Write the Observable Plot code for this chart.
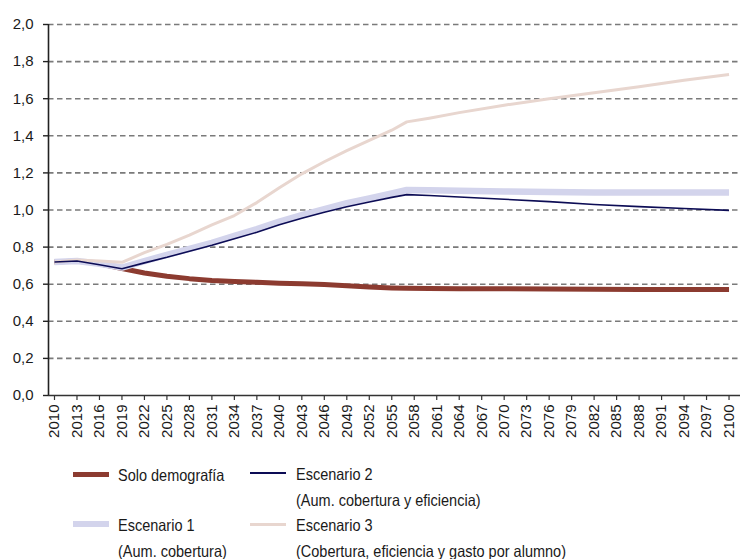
<!DOCTYPE html>
<html>
<head>
<meta charset="utf-8">
<script src="https://cdn.jsdelivr.net/npm/d3@7"></script>
<script src="https://cdn.jsdelivr.net/npm/@observablehq/plot@0.6"></script>
<style>
  html, body { margin: 0; padding: 0; background: #fff; overflow: hidden; }
  body { font-family: "Liberation Sans", Arial, sans-serif; }
  #legend { position: relative; width: 740px; height: 114px; font-family: "Liberation Sans", Arial, sans-serif; font-size: 14.5px; color: #1a1a1a; }
  #legend .sw { position: absolute; }
  #legend .tx { position: absolute; line-height: 21.7px; white-space: nowrap; transform: scale(1, 1.15); transform-origin: 0 0; }
</style>
</head>
<body>
<div id="chart"></div>
<div id="legend"></div>
<script>
// ---- data ----
const years = [2010, 2013, 2016, 2019, 2022, 2025, 2028, 2031, 2034, 2037, 2040, 2043, 2046, 2049, 2052, 2055, 2057, 2060, 2064, 2070, 2076, 2082, 2088, 2094, 2100];
const soloDemografia = [0.72, 0.725, 0.71, 0.685, 0.66, 0.643, 0.63, 0.62, 0.614, 0.61, 0.605, 0.602, 0.598, 0.592, 0.585, 0.58, 0.578, 0.577, 0.576, 0.575, 0.574, 0.573, 0.572, 0.572, 0.572];
const escenario1 = [0.72, 0.725, 0.71, 0.69, 0.725, 0.758, 0.79, 0.823, 0.86, 0.897, 0.937, 0.972, 1.005, 1.037, 1.063, 1.09, 1.108, 1.106, 1.104, 1.10, 1.097, 1.095, 1.094, 1.095, 1.095];
const escenario2 = [0.72, 0.725, 0.705, 0.683, 0.715, 0.745, 0.778, 0.81, 0.845, 0.88, 0.92, 0.955, 0.988, 1.018, 1.043, 1.068, 1.083, 1.078, 1.07, 1.058, 1.045, 1.03, 1.018, 1.008, 0.998];
const escenario3 = [0.72, 0.73, 0.725, 0.718, 0.77, 0.815, 0.865, 0.92, 0.97, 1.04, 1.12, 1.195, 1.26, 1.32, 1.375, 1.43, 1.475, 1.495, 1.525, 1.565, 1.60, 1.632, 1.665, 1.70, 1.73];

const seriesNames = ["Solo demografía", "Escenario 1", "Escenario 2", "Escenario 3"];
const legendLines = [["Solo demografía"], ["Escenario 1", "(Aum. cobertura)"], ["Escenario 2", "(Aum. cobertura y eficiencia)"], ["Escenario 3", "(Cobertura, eficiencia y gasto por alumno)"]];
const seriesColors = ["#8c3b30", "#d3d4ec", "#0c0c55", "#e8d6cf"];
const seriesWidths = [5, 6.5, 1.6, 3];

const xTicks = d3.range(2010, 2101, 3);
const yTicks = [0, 0.2, 0.4, 0.6, 0.8, 1.0, 1.2, 1.4, 1.6, 1.8, 2.0];

// ---- table ----
const allValues = [soloDemografia, escenario1, escenario2, escenario3];
const rows = [];
seriesNames.forEach((name, i) => {
  years.forEach((yr, j) => rows.push({series: name, year: yr, value: allValues[i][j]}));
});
const bySeries = name => rows.filter(r => r.series === name);

const fmt = d => d3.format(".1f")(d).replace(".", ",");
const xMin = 2009.2, xMax = 2101.53;

const drawOrder = [0, 1, 3, 2];

const chart = Plot.plot({
  width: 740,
  height: 445,
  marginTop: 24,
  marginBottom: 50,
  marginLeft: 48,
  marginRight: 0,
  style: {fontFamily: "Liberation Sans, Arial, sans-serif", fontSize: "15px", color: "#1a1a1a", background: "#fff"},
  x: {domain: [xMin, xMax], label: null},
  y: {domain: [0, 2], label: null},
  marks: [
    Plot.gridY(yTicks.filter(d => d > 0), {stroke: "#7a7a7a", strokeOpacity: 1, strokeWidth: 1.6, strokeDasharray: "5.5,3.5"}),
    Plot.axisY({ticks: yTicks, tickSize: 5, tickPadding: 10, tickFormat: fmt, stroke: "#222", strokeWidth: 1.4, label: null}),
    Plot.axisX({ticks: xTicks, tickRotate: -90, tickSize: 5, tickPadding: 4, tickFormat: d => String(d), stroke: "#333", strokeWidth: 1.2, label: null, fontSize: 15}),
    ...drawOrder.map(i => Plot.line(bySeries(seriesNames[i]), {
      x: "year", y: "value", stroke: seriesColors[i], strokeWidth: seriesWidths[i],
      strokeLinejoin: "round", strokeLinecap: "butt"
    })),
    Plot.ruleX([xMin], {stroke: "#222", strokeWidth: 1.6}),
    Plot.ruleY([0], {stroke: "#333", strokeWidth: 1.4})
  ]
});
document.getElementById("chart").appendChild(chart);

// ---- legend (HTML) ----
const legend = document.getElementById("legend");
const top0 = 445;
const legendPos = [
  {sx: 73, tx: 118, cy: 476},
  {sx: 73, tx: 118, cy: 526},
  {sx: 250, tx: 296, cy: 475},
  {sx: 250, tx: 296, cy: 526}
];
legendLines.forEach((lines, i) => {
  const p = legendPos[i];
  const sw = document.createElement("div");
  sw.className = "sw";
  sw.style.left = p.sx + "px";
  sw.style.width = "36px";
  sw.style.height = seriesWidths[i] + "px";
  sw.style.top = (p.cy - top0 - 2 - seriesWidths[i] / 2) + "px";
  sw.style.background = seriesColors[i];
  legend.appendChild(sw);
  const tx = document.createElement("div");
  tx.className = "tx";
  tx.style.left = p.tx + "px";
  tx.style.top = (p.cy - top0 - 12.5) + "px";
  tx.innerHTML = lines.join("<br>");
  legend.appendChild(tx);
});
</script>
</body>
</html>
